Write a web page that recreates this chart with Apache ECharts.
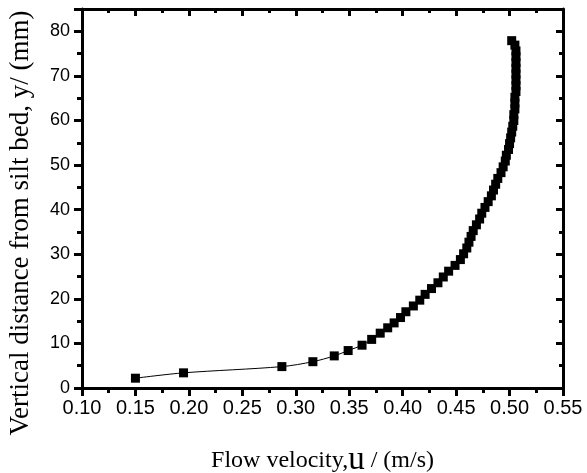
<!DOCTYPE html>
<html>
<head>
<meta charset="utf-8">
<script src="https://cdn.jsdelivr.net/npm/echarts@6/dist/echarts.min.js"></script>
<style>html,body{margin:0;padding:0;background:#fff;}#c{width:587px;height:473px;}</style>
</head>
<body>
<div id="c"></div>
<script>
// Flow velocity u (m/s)
const velocity = [0.150, 0.195, 0.287, 0.316, 0.336, 0.349, 0.362, 0.371, 0.379, 0.386,
  0.392, 0.398, 0.403, 0.410, 0.416, 0.421, 0.427, 0.433, 0.438, 0.443,
  0.449, 0.454, 0.457, 0.460, 0.462, 0.464, 0.466, 0.469, 0.472, 0.474,
  0.477, 0.480, 0.483, 0.485, 0.487, 0.489, 0.492, 0.494, 0.496, 0.497,
  0.499, 0.500, 0.501, 0.502, 0.503, 0.504, 0.504, 0.505, 0.505, 0.505,
  0.506, 0.506, 0.506, 0.506, 0.506, 0.506, 0.506, 0.506, 0.505, 0.502];
// Vertical distance y (mm)
const height = [2.2, 3.4, 4.8, 5.9, 7.2, 8.4, 9.6, 10.9, 12.3, 13.5,
  14.6, 15.8, 17.1, 18.4, 19.7, 21.0, 22.3, 23.6, 24.9, 26.2,
  27.5, 28.8, 30.1, 31.4, 32.7, 34.0, 35.3, 36.6, 37.9, 39.2,
  40.5, 41.8, 43.1, 44.4, 45.7, 47.0, 48.3, 49.6, 50.9, 52.2,
  53.5, 54.8, 56.1, 57.4, 58.7, 60.0, 61.3, 62.6, 63.9, 65.2,
  66.5, 67.8, 69.1, 70.4, 71.7, 73.0, 74.3, 75.6, 76.9, 77.9];
const xTitle = 'Flow velocity,';
const yTitle = 'Vertical distance from silt bed, y/ (mm)';

const pts = velocity.map((v, i) => [v, height[i]]);
const chart = echarts.init(document.getElementById('c'), null, {renderer: 'canvas'});
const axLine = {show: true, onZero: false, lineStyle: {color: '#000', width: 3}};
chart.setOption({
  animation: false,
  backgroundColor: '#fff',
  grid: {left: 82, right: 24, top: 9, bottom: 85, containLabel: false, outerBoundsMode: 'none'},
  graphic: [{
    type: 'text', rotation: Math.PI / 2,
    x: 21, y: 223,
    style: {text: yTitle, fontFamily: 'Liberation Serif, Times New Roman, serif', fontSize: 27,
      fill: '#000', align: 'center', verticalAlign: 'middle'}
  }],
  xAxis: [{
    type: 'value', position: 'bottom', min: 0.10, max: 0.55, interval: 0.05,
    axisLine: axLine,
    axisTick: {show: true, inside: false, length: 8, lineStyle: {color: '#000', width: 3}},
    minorTick: {show: true, splitNumber: 2, length: 5, lineStyle: {color: '#000', width: 3}},
    splitLine: {show: false},
    axisLabel: {color: '#000', fontFamily: 'Liberation Sans, Arial, sans-serif', fontSize: 20, margin: 10,
      formatter: v => v.toFixed(2)},
    name: '{a|' + xTitle + '}{b|u}{a| / (m/s)}',
    nameLocation: 'middle', nameGap: 56,
    nameTextStyle: {rich: {
      a: {fontFamily: 'Liberation Serif, Times New Roman, serif', fontSize: 24, color: '#000'},
      b: {fontFamily: 'Liberation Serif, Times New Roman, serif', fontSize: 33, color: '#000'}
    }}
  }, {
    type: 'value', position: 'top', min: 0.10, max: 0.55, interval: 0.05,
    axisLine: axLine,
    axisTick: {show: true, inside: true, length: 7, lineStyle: {color: '#000', width: 3}},
    minorTick: {show: true, splitNumber: 2, length: 4, lineStyle: {color: '#000', width: 3}},
    splitLine: {show: false}, axisLabel: {show: false}
  }],
  yAxis: [{
    type: 'value', position: 'left', min: 0, max: 85, interval: 10,
    axisLine: axLine,
    axisTick: {show: true, inside: false, length: 8, lineStyle: {color: '#000', width: 3}},
    minorTick: {show: true, splitNumber: 2, length: 5, lineStyle: {color: '#000', width: 3}},
    splitLine: {show: false},
    axisLabel: {color: '#000', fontFamily: 'Liberation Sans, Arial, sans-serif', fontSize: 18, margin: 12,
      showMaxLabel: false}
  }, {
    type: 'value', position: 'right', min: 0, max: 85, interval: 10,
    axisLine: axLine,
    axisTick: {show: true, inside: true, length: 7, lineStyle: {color: '#000', width: 3}},
    minorTick: {show: true, splitNumber: 2, length: 4, lineStyle: {color: '#000', width: 3}},
    splitLine: {show: false}, axisLabel: {show: false}
  }],
  series: [{
    type: 'line', xAxisIndex: 0, yAxisIndex: 0, data: pts,
    smooth: 0.3,
    symbol: 'rect', symbolSize: 9,
    itemStyle: {color: '#000'},
    lineStyle: {color: '#000', width: 1}
  }]
});
</script>
</body>
</html>
